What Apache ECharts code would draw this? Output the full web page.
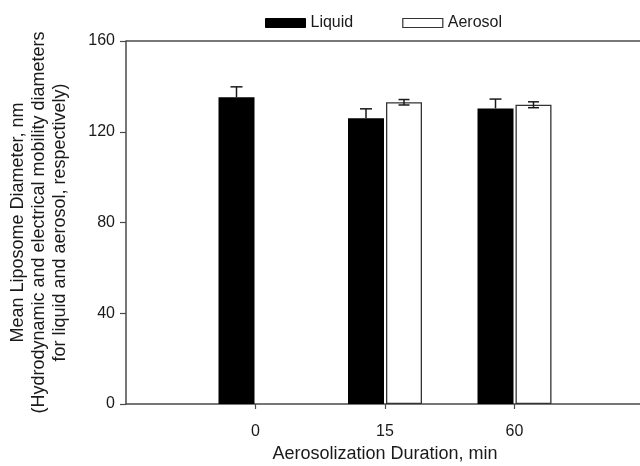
<!DOCTYPE html>
<html>
<head>
<meta charset="utf-8">
<script src="https://cdn.jsdelivr.net/npm/echarts@6/dist/echarts.min.js"></script>
<style>
html,body{margin:0;padding:0;background:#fff;}
#c{width:640px;height:466px;}
</style>
</head>
<body>
<div id="c"></div>
<script>
const categories = ['', '0', '15', '60', ''];
const liquidValues = [null, 135.2, 125.9, 130.3, null];
const liquidErrors = [null, 4.6, 4.2, 4.1, null];
const aerosolValues = [null, null, 133.0, 131.9, null];
const aerosolErrors = [null, null, 1.2, 1.3, null];
const yTicks = [0, 40, 80, 120, 160];

const BAR_W = 36;
const BAR_GAP = 2;
const textColor = '#1a1a1a';
const axisColor = '#4a4a4a';
const font = 'Liberation Sans, Arial, sans-serif';

function errSeries(name, values, errors, side, capW, both) {
  const data = values.map((v, i) => v == null ? null : [i, v, errors[i]]).filter(d => d);
  return {
    type: 'custom',
    name: name + ' err',
    z: 5,
    silent: true,
    data: data,
    encode: { x: 0, y: 1 },
    renderItem: function (params, api) {
      const i = api.value(0), v = api.value(1), e = api.value(2);
      const base = api.coord([i, v]);
      const x = base[0] + side * (BAR_W + BAR_GAP) / 2;
      const yTop = api.coord([i, v + e])[1];
      const yBot = both ? api.coord([i, v - e])[1] : base[1];
      const style = { stroke: textColor, lineWidth: 1.5 };
      const children = [
        { type: 'line', shape: { x1: x, y1: yTop, x2: x, y2: yBot }, style: style },
        { type: 'line', shape: { x1: x - capW / 2, y1: yTop, x2: x + capW / 2, y2: yTop }, style: style }
      ];
      if (both) children.push({ type: 'line', shape: { x1: x - capW / 2, y1: yBot, x2: x + capW / 2, y2: yBot }, style: style });
      return { type: 'group', children: children };
    }
  };
}

const chart = echarts.init(document.getElementById('c'));
chart.setOption({
  animation: false,
  backgroundColor: '#fff',
  textStyle: { fontFamily: font },
  legend: {
    left: 260, top: 10,
    itemWidth: 40, itemHeight: 9, itemGap: 49,
    icon: 'rect',
    textStyle: { fontSize: 16, color: textColor, fontFamily: font },
    data: [
      { name: 'Liquid', itemStyle: { color: '#000', borderColor: '#000', borderWidth: 1 } },
      { name: 'Aerosol', itemStyle: { color: '#fff', borderColor: '#333', borderWidth: 1.2 } }
    ]
  },
  grid: { left: 126, top: 41, right: -4, bottom: 62, outerBoundsMode: 'none', containLabel: false },
  xAxis: {
    type: 'category',
    data: categories,
    boundaryGap: false,
    name: 'Aerosolization Duration, min',
    nameLocation: 'middle',
    nameGap: 41,
    nameTextStyle: { fontSize: 18, color: textColor, fontFamily: font },
    axisLine: { show: true, lineStyle: { color: axisColor, width: 1.5 } },
    axisTick: { show: true, length: 5, inside: false, lineStyle: { color: axisColor, width: 1.2 },
      interval: function (idx, val) { return val !== ''; } },
    axisLabel: { fontSize: 16, color: textColor, margin: 20, interval: 0 },
    splitLine: { show: false }
  },
  yAxis: {
    type: 'value',
    min: 0, max: 160, interval: 40,
    name: 'Mean Liposome Diameter, nm\n(Hydrodynamic and electrical mobility diameters\nfor liquid and aerosol, respectively)',
    nameLocation: 'middle',
    nameGap: 55,
    nameRotate: 90,
    nameTextStyle: { fontSize: 18, color: textColor, lineHeight: 21, fontFamily: font, align: 'center' },
    axisLine: { show: true, lineStyle: { color: axisColor, width: 1.5 } },
    axisTick: { show: true, length: 6, lineStyle: { color: axisColor, width: 1.2 } },
    axisLabel: { fontSize: 16, color: textColor, margin: 11,
      formatter: function (v) { return yTicks.indexOf(v) >= 0 ? String(v) : ''; } },
    splitLine: { show: false }
  },
  series: [
    {
      type: 'bar', name: 'Liquid', data: liquidValues,
      barWidth: BAR_W, barGap: (BAR_GAP / BAR_W * 100) + '%',
      itemStyle: { color: '#000' },
      markLine: {
        silent: true, symbol: 'none', label: { show: false },
        lineStyle: { color: axisColor, width: 1.5, type: 'solid' },
        data: [{ yAxis: 160 }]
      }
    },
    {
      type: 'bar', name: 'Aerosol', data: aerosolValues,
      barWidth: BAR_W,
      itemStyle: { color: '#fff', borderColor: '#333', borderWidth: 1.3 }
    },
    errSeries('Liquid', liquidValues, liquidErrors, -1, 12, false),
    errSeries('Aerosol', aerosolValues, aerosolErrors, 1, 11, true)
  ]
});
</script>
</body>
</html>
